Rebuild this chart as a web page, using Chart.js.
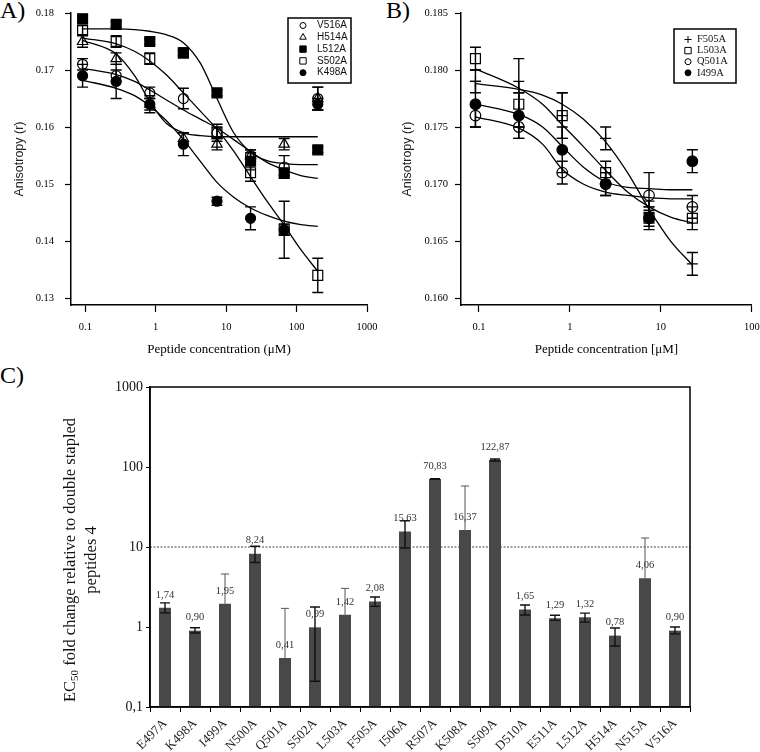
<!DOCTYPE html>
<html>
<head>
<meta charset="utf-8">
<script src="https://cdn.jsdelivr.net/npm/chart.js@4.4.1/dist/chart.umd.min.js"></script>
<style>
  body { margin:0; background:#fff; width:760px; height:752px; position:relative; overflow:hidden; }
  canvas { position:absolute; }
  .panel { position:absolute; font-family:'Liberation Serif', serif; font-size:24px; line-height:24px; color:#000; }
</style>
</head>
<body>
<div class="panel" style="left:0;top:-2px">A)</div>
<div class="panel" style="left:386px;top:-2px">B)</div>
<div class="panel" style="left:0;top:363px">C)</div>
<canvas id="chartA" width="380" height="360" style="left:0;top:0"></canvas>
<canvas id="chartB" width="380" height="360" style="left:380px;top:0"></canvas>
<canvas id="chartC" width="760" height="392" style="left:0;top:360px"></canvas>
<script>
const SERIF = "'Liberation Serif', 'Times New Roman', serif";
const SANS = "'Liberation Sans', Arial, sans-serif";

// ---- panel A data (3-fold dilutions, uM) ----
let concA = [0.0914, 0.274, 0.823, 2.47, 7.41, 22.2, 66.7, 200];
let v516a = [0.171, 0.169, 0.166, 0.165, 0.159, 0.155, 0.153, 0.165];
let v516aErr = [0.001, 0.001, 0.001, 0.0018, 0.001, 0.001, 0.002, 0.002];
let h514a = [0.175, 0.172, 0.164, 0.158, 0.157, 0.155, 0.157, 0.165];
let h514aErr = [0.001, 0.001, 0.001, 0.001, 0.001, 0.001, 0.001, 0.002];
let l512a = [0.179, 0.178, 0.175, 0.173, 0.166, 0.154, 0.152, 0.156];
let l512aErr = [0.0005, 0.0005, 0.0005, 0.0005, 0.0005, 0.0015, 0.0005, 0.0005];
let s502a = [0.177, 0.175, 0.172, 0.173, 0.159, 0.152, 0.142, 0.134];
let s502aErr = [0.0008, 0.001, 0.001, 0.0005, 0.0015, 0.0015, 0.005, 0.003];
let k498a = [0.169, 0.168, 0.164, 0.157, 0.147, 0.144, 0.142, 0.164];
let k498aErr = [0.002, 0.003, 0.0015, 0.002, 0.0007, 0.002, 0.001, 0.001];

// fitted curves
let fitXA = [0.0914, 0.274, 0.5, 0.823, 1.4, 2.47, 4.3, 7.41, 12.8, 22.2, 38, 66.7, 115, 200];
let v516aFit = [0.1703, 0.1692, 0.1680, 0.1665, 0.1648, 0.1630, 0.1614, 0.1598, 0.1578, 0.1557, 0.1538, 0.1525, 0.1515, 0.1510];
let h514aFit = [0.1752, 0.1728, 0.1690, 0.1645, 0.1607, 0.1590, 0.1585, 0.1583, 0.1583, 0.1583, 0.1583, 0.1583, 0.1583, 0.1583];
let l512aFit = [0.1772, 0.1772, 0.1771, 0.1768, 0.1762, 0.1748, 0.1712, 0.1650, 0.1590, 0.1556, 0.1541, 0.1536, 0.1534, 0.1534];
let s502aFit = [0.1756, 0.1746, 0.1733, 0.1716, 0.1692, 0.1660, 0.1628, 0.1596, 0.1558, 0.1513, 0.1470, 0.1428, 0.1385, 0.1347];
let k498aFit = [0.1682, 0.1668, 0.1655, 0.1637, 0.1612, 0.1578, 0.1540, 0.1503, 0.1477, 0.1458, 0.1445, 0.1435, 0.1429, 0.1426];
let xTicksA = [0.1, 1, 10, 100, 1000];
let yTicksA = [0.13, 0.14, 0.15, 0.16, 0.17, 0.18];

// ---- panel B data ----
let concB = [0.0914, 0.274, 0.823, 2.47, 7.41, 22.2];
let f505a = [0.179, 0.178, 0.176, 0.174, 0.168, 0.163];
let f505aErr = [0.001, 0.003, 0.002, 0.001, 0.0005, 0.001];
let l503a = [0.181, 0.177, 0.176, 0.171, 0.167, 0.167];
let l503aErr = [0.001, 0.002, 0.002, 0.001, 0.0007, 0.001];
let q501a = [0.176, 0.175, 0.171, 0.170, 0.169, 0.168];
let q501aErr = [0.001, 0.001, 0.001, 0.001, 0.002, 0.001];
let i499a = [0.177, 0.176, 0.173, 0.170, 0.167, 0.172];
let i499aErr = [0.002, 0.002, 0.002, 0.001, 0.001, 0.001];

let fitXB = [0.0914, 0.274, 0.5, 0.823, 1.4, 2.47, 4.3, 7.41, 12.8, 22.2];
let f505aFit = [0.1788, 0.1783, 0.1778, 0.1770, 0.1757, 0.1737, 0.1710, 0.1678, 0.1650, 0.1629];
let l503aFit = [0.1801, 0.1784, 0.1770, 0.1752, 0.1733, 0.1712, 0.1693, 0.1680, 0.1671, 0.1666];
let q501aFit = [0.1759, 0.1749, 0.1735, 0.1713, 0.1700, 0.1693, 0.1690, 0.1688, 0.1687, 0.1687];
let i499aFit = [0.1770, 0.1761, 0.1750, 0.1733, 0.1715, 0.1702, 0.1697, 0.1696, 0.1695, 0.1695];
let xTicksB = [0.1, 1, 10, 100];
let yTicksB = [0.160, 0.165, 0.170, 0.175, 0.180, 0.185];

// ---- panel C data ----
let mutants = ['E497A','K498A','I499A','N500A','Q501A','S502A','L503A','F505A','I506A',
               'R507A','K508A','S509A','D510A','E511A','L512A','H514A','N515A','V516A'];
let foldChange = [1.74, 0.90, 1.95, 8.24, 0.41, 0.99, 1.42, 2.08, 15.63,
                  70.83, 16.37, 122.87, 1.65, 1.29, 1.32, 0.78, 4.06, 0.90];
let errHigh = [2.0, 0.98, 4.6, 10.2, 1.71, 1.78, 3.04, 2.37, 21.3,
               71.5, 57.9, 126, 1.88, 1.40, 1.49, 0.97, 12.96, 1.0];
let errLow = [1.5, 0.84, null, 6.4, null, 0.21, null, 1.81, 9.7,
              70.2, null, 119, 1.41, 1.21, 1.15, 0.58, null, 0.82];
let refLevel = 10;
let yTicksC = [0.1, 1, 10, 100, 1000];

// error bars for the anisotropy points
const errorBars = {
  id: 'errorBars',
  afterDatasetsDraw(chart, args, opts) {
    const ctx = chart.ctx, ys = chart.scales.y;
    ctx.save();
    ctx.strokeStyle = '#000';
    ctx.lineWidth = 1.4;
    chart.data.datasets.forEach((ds, i) => {
      if (!ds.errors) return;
      chart.getDatasetMeta(i).data.forEach((pt, j) => {
        const e = ds.errors[j];
        if (!e) return;
        const v = ds.data[j].y;
        const top = ys.getPixelForValue(v + e), bot = ys.getPixelForValue(v - e);
        const w = opts.cap;
        ctx.beginPath();
        ctx.moveTo(pt.x, top); ctx.lineTo(pt.x, bot);
        ctx.moveTo(pt.x - w, top); ctx.lineTo(pt.x + w, top);
        ctx.moveTo(pt.x - w, bot); ctx.lineTo(pt.x + w, bot);
        ctx.stroke();
      });
    });
    ctx.restore();
  }
};

// framed legend inside the plot
const boxLegend = {
  id: 'boxLegend',
  afterDraw(chart, args, o) {
    const ctx = chart.ctx;
    ctx.save();
    ctx.fillStyle = '#fff';
    ctx.fillRect(o.x, o.y, o.w, o.h);
    ctx.lineWidth = 1.5;
    ctx.strokeStyle = '#000';
    ctx.strokeRect(o.x, o.y, o.w, o.h);
    ctx.font = o.font;
    ctx.textBaseline = 'middle';
    let row = 0;
    chart.data.datasets.forEach(ds => {
      if (!ds.errors) return;
      const cy = o.y0 + row * o.step;
      ctx.strokeStyle = '#000';
      ctx.fillStyle = ds.backgroundColor === '#000' ? '#000' : '#fff';
      ctx.lineWidth = 1;
      Chart.helpers.drawPoint(ctx, {pointStyle: ds.pointStyle, radius: o.sizes[ds.pointStyle], rotation: 0, borderWidth: 1}, o.sx, cy);
      ctx.fillStyle = '#111';
      ctx.fillText(ds.label, o.tx, cy);
      row++;
    });
    ctx.restore();
  }
};

function markers(label, xs, ys, errs, style, filled, r) {
  return {
    label: label,
    data: xs.map((x, i) => ({x: x, y: ys[i]})),
    errors: errs,
    showLine: false,
    pointStyle: style,
    pointRadius: r,
    borderColor: '#000',
    backgroundColor: filled ? '#000' : 'rgba(0,0,0,0)',
    borderWidth: 1.2
  };
}
function fitLine(xs, ys) {
  return {
    label: 'fit',
    data: xs.map((x, i) => ({x: x, y: ys[i]})),
    showLine: true,
    pointRadius: 0,
    borderColor: '#000',
    borderWidth: 1.3,
    cubicInterpolationMode: 'monotone',
    fill: false
  };
}

function curveOptions(p) {
  return {
    responsive: false,
    animation: false,
    devicePixelRatio: 1,
    layout: {padding: {left: 0, top: 13, right: p.padRight, bottom: 0}},
    plugins: {
      legend: {display: false},
      tooltip: {enabled: false},
      errorBars: {cap: 5.5},
      boxLegend: p.legend
    },
    scales: {
      x: {
        type: 'logarithmic', min: p.xMin, max: p.xMax,
        afterBuildTicks: s => { s.ticks = p.xTicks.map(v => ({value: v})); },
        afterFit: s => { s.height = 55; s.paddingLeft = 0; s.paddingRight = 0; },
        grid: {drawOnChartArea: false, drawTicks: true, tickLength: 7, tickColor: '#000', tickWidth: 1.2},
        border: {color: '#000', width: 1.5},
        ticks: {font: {family: SERIF, size: p.tickSize}, color: '#000', padding: 9, maxRotation: 0,
                callback: v => String(v)},
        title: {display: true, text: p.xTitle, font: {family: SERIF, size: 13}, color: '#000', padding: {top: 0, bottom: 3}}
      },
      y: {
        min: p.yMin, max: p.yMax,
        afterBuildTicks: s => { s.ticks = p.yTicks.map(v => ({value: v})); },
        afterFit: s => { s.width = p.yWidth; s.paddingTop = 0; s.paddingBottom = 0; },
        grid: {drawOnChartArea: false, drawTicks: true, tickLength: 6, tickColor: '#000', tickWidth: 1.2},
        border: {color: '#000', width: 1.5},
        ticks: {font: {family: SERIF, size: p.tickSize}, color: '#000', padding: p.yPad,
                callback: v => v.toFixed(p.digits)},
        title: {display: true, text: 'Anisotropy (r)', font: {family: SANS, size: 12.5}, color: '#222',
                padding: {top: p.titlePad, bottom: 0}}
      }
    }
  };
}

new Chart(document.getElementById('chartA'), {
  type: 'scatter',
  data: {datasets: [
    markers('V516A', concA, v516a, v516aErr, 'circle', false, 5),
    markers('H514A', concA, h514a, h514aErr, 'triangle', false, 6),
    markers('L512A', concA, l512a, l512aErr, 'rect', true, 7),
    markers('S502A', concA, s502a, s502aErr, 'rect', false, 7),
    markers('K498A', concA, k498a, k498aErr, 'circle', true, 5),
    fitLine(fitXA, v516aFit),
    fitLine(fitXA, h514aFit),
    fitLine(fitXA, l512aFit),
    fitLine(fitXA, s502aFit),
    fitLine(fitXA, k498aFit)
  ]},
  options: curveOptions({
    padRight: 13, xMin: 0.0626, xMax: 1000, xTicks: xTicksA, yMin: 0.1288, yMax: 0.18, yTicks: yTicksA,
    yWidth: 71, yPad: 11, digits: 2, tickSize: 10.5, titlePad: 12.5,
    xTitle: 'Peptide concentration (\u03bcM)',
    legend: {x: 288, y: 18, w: 63, h: 65, sx: 303, tx: 317, y0: 25.5, step: 11.8,
             font: '10px ' + SANS, sizes: {circle: 3, triangle: 3.8, rect: 4.5}}
  }),
  plugins: [errorBars, boxLegend]
});

new Chart(document.getElementById('chartB'), {
  type: 'scatter',
  data: {datasets: [
    markers('F505A', concB, f505a, f505aErr, 'cross', false, 5.5),
    markers('L503A', concB, l503a, l503aErr, 'rect', false, 7),
    markers('Q501A', concB, q501a, q501aErr, 'circle', false, 5.3),
    markers('I499A', concB, i499a, i499aErr, 'circle', true, 5.3),
    fitLine(fitXB, f505aFit),
    fitLine(fitXB, l503aFit),
    fitLine(fitXB, q501aFit),
    fitLine(fitXB, i499aFit)
  ]},
  options: curveOptions({
    padRight: 8, xMin: 0.0634, xMax: 100, xTicks: xTicksB, yMin: 0.15939, yMax: 0.185, yTicks: yTicksB,
    yWidth: 81, yPad: 7, digits: 3, tickSize: 10.5, titlePad: 20.5,
    xTitle: 'Peptide concentration [\u03bcM]',
    legend: {x: 294, y: 29, w: 62, h: 54, sx: 308, tx: 317, y0: 39.5, step: 11.1,
             font: '10.5px ' + SERIF, sizes: {cross: 3.5, rect: 4.5, circle: 3}}
  }),
  plugins: [errorBars, boxLegend]
});

// ---- panel C helpers ----
const refLine = {
  id: 'refLine',
  beforeDatasetsDraw(chart) {
    const ctx = chart.ctx, a = chart.chartArea;
    const yy = chart.scales.y.getPixelForValue(refLevel);
    ctx.save();
    ctx.strokeStyle = '#444';
    ctx.lineWidth = 1;
    ctx.setLineDash([2, 1.5]);
    ctx.beginPath();
    ctx.moveTo(a.left, yy);
    ctx.lineTo(a.right, yy);
    ctx.stroke();
    ctx.restore();
  }
};

const barExtras = {
  id: 'barExtras',
  afterDatasetsDraw(chart) {
    const ctx = chart.ctx, ys = chart.scales.y;
    const meta = chart.getDatasetMeta(0);
    ctx.save();
    meta.data.forEach((bar, i) => {
      const oneSided = errLow[i] == null;
      const top = ys.getPixelForValue(errHigh[i]);
      const bot = oneSided ? bar.y : ys.getPixelForValue(errLow[i]);
      const w = oneSided ? 4 : 5;
      ctx.strokeStyle = oneSided ? '#555' : '#111';
      ctx.lineWidth = oneSided ? 1 : 1.4;
      ctx.beginPath();
      ctx.moveTo(bar.x, top); ctx.lineTo(bar.x, bot);
      ctx.moveTo(bar.x - w, top); ctx.lineTo(bar.x + w, top);
      if (!oneSided) { ctx.moveTo(bar.x - w, bot); ctx.lineTo(bar.x + w, bot); }
      ctx.stroke();
    });
    ctx.font = '10.5px ' + SERIF;
    ctx.fillStyle = '#333';
    ctx.textAlign = 'center';
    ctx.textBaseline = 'middle';
    meta.data.forEach((bar, i) => {
      ctx.fillText(foldChange[i].toFixed(2).replace('.', ','), bar.x, bar.y - 13);
    });
    ctx.restore();
  },
  afterDraw(chart) {
    const ctx = chart.ctx, a = chart.chartArea;
    ctx.save();
    ctx.strokeStyle = '#000';
    ctx.lineWidth = 1.5;
    ctx.strokeRect(a.left, a.top, a.right - a.left, a.bottom - a.top);
    // y axis title with subscript
    ctx.translate(71, 200);
    ctx.rotate(-Math.PI / 2);
    ctx.fillStyle = '#111';
    ctx.textBaseline = 'middle';
    const big = '16.5px ' + SERIF, small = '11px ' + SERIF;
    const p1 = 'EC', p2 = '50', p3 = ' fold change relative to double stapled';
    ctx.font = big; const w1 = ctx.measureText(p1).width, w3 = ctx.measureText(p3).width;
    ctx.font = small; const w2 = ctx.measureText(p2).width;
    let x0 = -(w1 + w2 + w3) / 2;
    ctx.font = big; ctx.fillText(p1, x0, 0);
    ctx.font = small; ctx.fillText(p2, x0 + w1, 4);
    ctx.font = big; ctx.fillText(p3, x0 + w1 + w2, 0);
    ctx.textAlign = 'center';
    ctx.fillText('peptides 4', 0, 21);
    ctx.restore();
  }
};

new Chart(document.getElementById('chartC'), {
  type: 'bar',
  data: {
    labels: mutants,
    datasets: [{data: foldChange, backgroundColor: '#484848', borderWidth: 0,
                barPercentage: 0.4, categoryPercentage: 1}]
  },
  options: {
    responsive: false,
    animation: false,
    devicePixelRatio: 1,
    layout: {padding: {left: 0, top: 27, right: 70, bottom: 0}},
    plugins: {legend: {display: false}, tooltip: {enabled: false}},
    scales: {
      x: {
        afterFit: s => { s.height = 45; s.paddingLeft = 0; s.paddingRight = 0; },
        grid: {offset: true, drawOnChartArea: false, drawTicks: true, tickLength: 5, tickColor: '#000'},
        border: {color: '#000', width: 1.5},
        ticks: {autoSkip: false, maxRotation: 45, minRotation: 45, padding: 4,
                font: {family: SERIF, size: 13}, color: '#222'}
      },
      y: {
        type: 'logarithmic', min: 0.1, max: 1000,
        afterBuildTicks: s => { s.ticks = yTicksC.map(v => ({value: v})); },
        afterFit: s => { s.width = 150; s.paddingTop = 0; s.paddingBottom = 0; },
        grid: {drawOnChartArea: false, drawTicks: true, tickLength: 4, tickColor: '#000'},
        border: {color: '#000', width: 1.5},
        ticks: {font: {family: SERIF, size: 14}, color: '#111', padding: 3,
                callback: v => v < 1 ? '0,1' : String(v)}
      }
    }
  },
  plugins: [refLine, barExtras]
});
</script>
</body>
</html>
